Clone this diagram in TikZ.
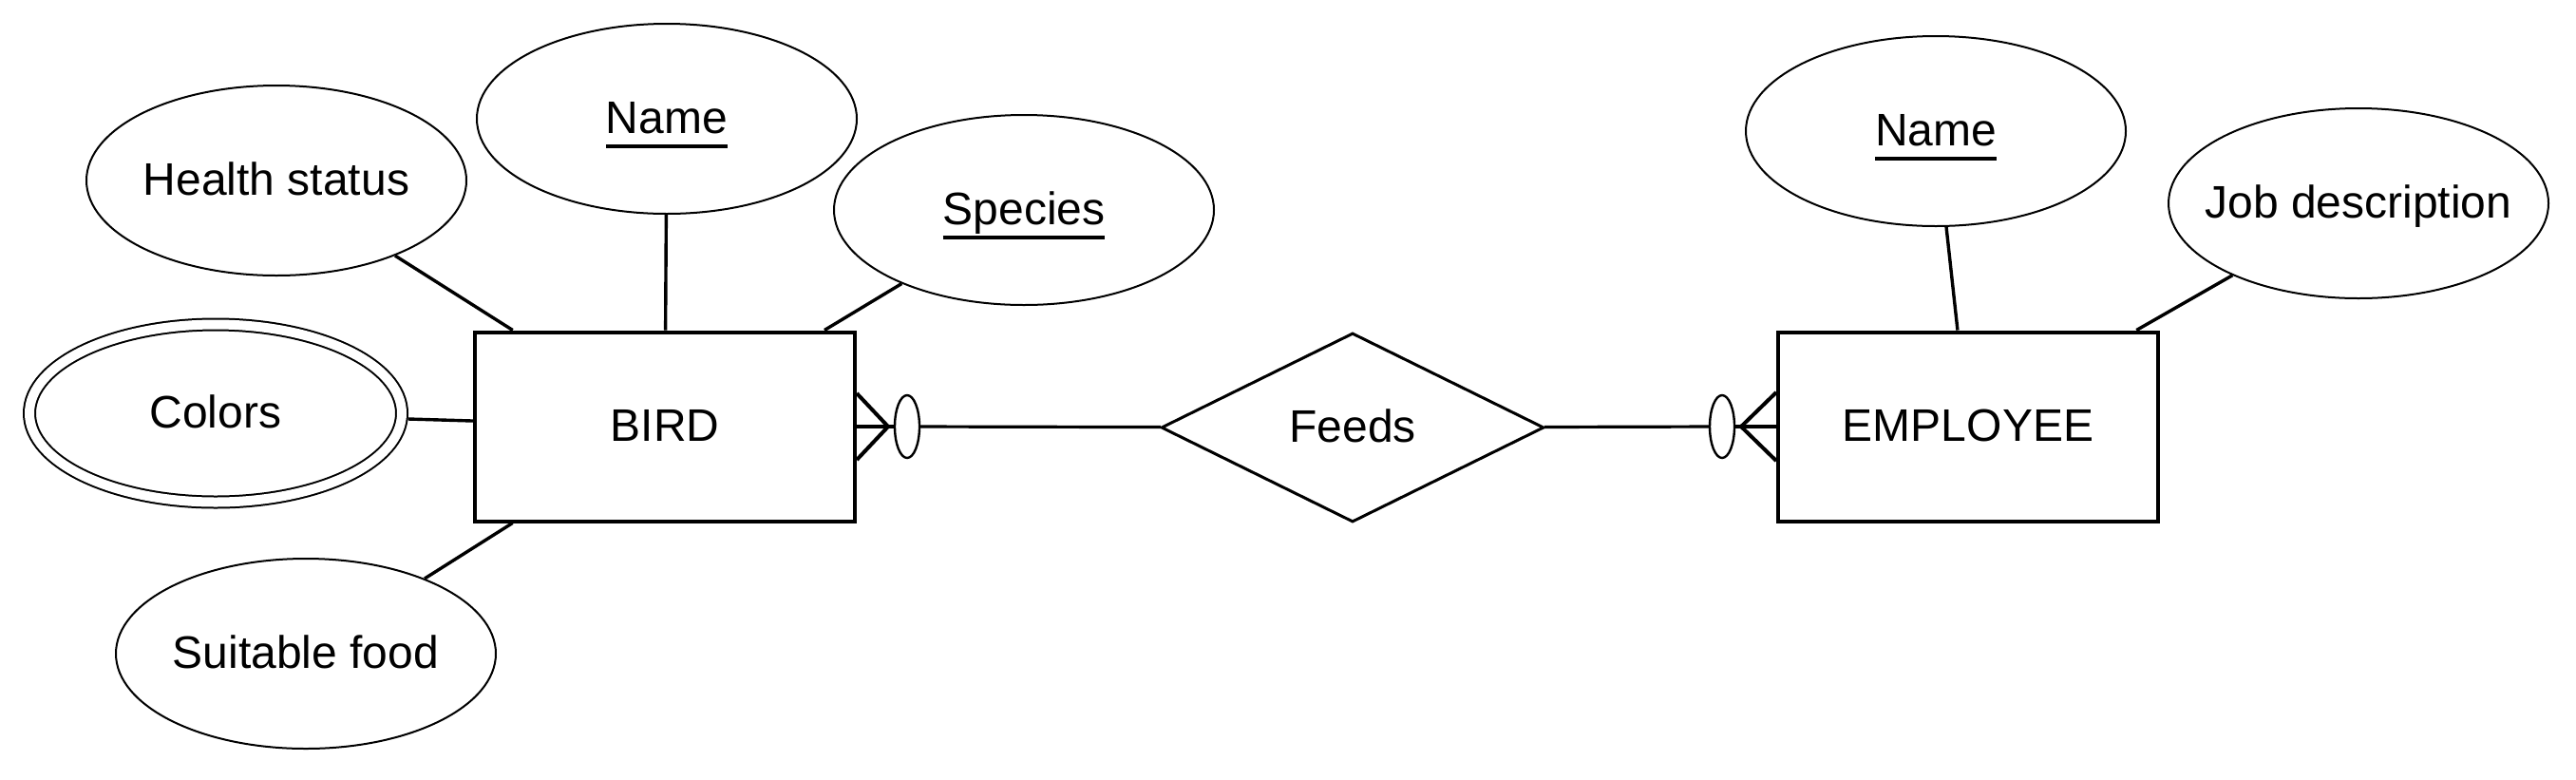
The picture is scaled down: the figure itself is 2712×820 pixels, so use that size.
\documentclass[tikz,border=0pt]{standalone}
\usepackage{fontspec}
\setmainfont{Liberation Sans}
\usepackage{tikz}
\usetikzlibrary{shapes}
\usetikzlibrary{arrows}

% key attribute: text with a rule under it
\newcommand\keyname[1]{\setbox0\hbox{#1}\rlap{\smash{\rule[-7.5pt]{\wd0}{2pt}}}\box0}

\begin{document}
\begin{tikzpicture}[x=0.5pt,y=-0.5pt,font=\fontsize{24}{29}\selectfont]

  \tikzset{attr/.style = {shape=ellipse,draw,line width=1pt,inner sep=0pt,inner xsep=-30pt,
      minimum width=200pt,minimum height=100pt,text height=17pt,text depth=1.5pt}}
  \tikzset{multiattr/.style = {attr,double,double distance=5pt,
      minimum width=196pt,minimum height=93.5pt}}
  \tikzset{entity/.style = {shape=rectangle,draw,line width=2pt,inner sep=0pt,
      minimum width=200pt,minimum height=99.5pt,text height=17pt,text depth=1.5pt}}
  \tikzset{relation/.style = {shape=diamond,draw,line width=1.5pt,inner sep=0pt,
      minimum width=201.5pt,minimum height=99.5pt,text height=17pt,text depth=1.5pt}}
  \tikzset{zero/.style = {shape=ellipse,draw,line width=1.2pt,inner sep=0pt,
      minimum width=13pt,minimum height=33pt}}
  \tikzset{link/.style = {line width=1.7pt}}
  \tikzset{rel/.style = {line width=1.6pt}}
  \tikzset{crow/.style = {line width=2pt}}

  \useasboundingbox (0,0) rectangle (2712,820);
  % entities
  \node[entity] (bird) at (700,449)  {BIRD};
  \node[entity] (emp)  at (2072,449) {EMPLOYEE};
  \node[relation] (feeds) at (1424,450) {Feeds};
  % attributes
  \node[attr] (health)  at (291,190)  {Health status};
  \node[attr] (bname)   at (702,125)  {\keyname{Name}};
  \node[attr] (species) at (1078,221) {\keyname{Species}};
  \node[multiattr] (colors) at (227,435) {Colors};
  \node[attr] (food)    at (322,688)  {Suitable food};
  \node[attr] (ename)   at (2038,138) {\keyname{Name}};
  \node[attr] (job)     at (2483,214) {Job description};
  % cardinality marks
  \node[zero] (bzero) at ([xshift=26.5pt]bird.east) {};
  \node[zero] (ezero) at ([xshift=-28.5pt]emp.west) {};
  \coordinate (bfoot) at ([xshift=16.5pt]bird.east);
  \coordinate (efoot) at ([xshift=-18.5pt]emp.west);
  % edges
  \draw[link] (health) -- (bird);
  \draw[link] (bname) -- (bird);
  \draw[link] (species) -- (bird);
  \draw[link,shorten <=3pt] (colors) -- (bird);
  \draw[link] (food) -- (bird);
  \draw[link] (ename) -- (emp);
  \draw[link] (job) -- (emp);
  \draw[rel] (feeds) -- (bzero);
  \draw[rel] (bzero) -- (bird);
  \draw[rel] (feeds) -- (ezero);
  \draw[rel] (ezero) -- (emp);
  % crow's feet
  \draw[crow] ([yshift=17.5pt]bird.east) -- (bfoot) -- ([yshift=-17.5pt]bird.east);
  \draw[crow] ([yshift=18pt]emp.west) -- (efoot) -- ([yshift=-18pt]emp.west);
\end{tikzpicture}
\end{document}
